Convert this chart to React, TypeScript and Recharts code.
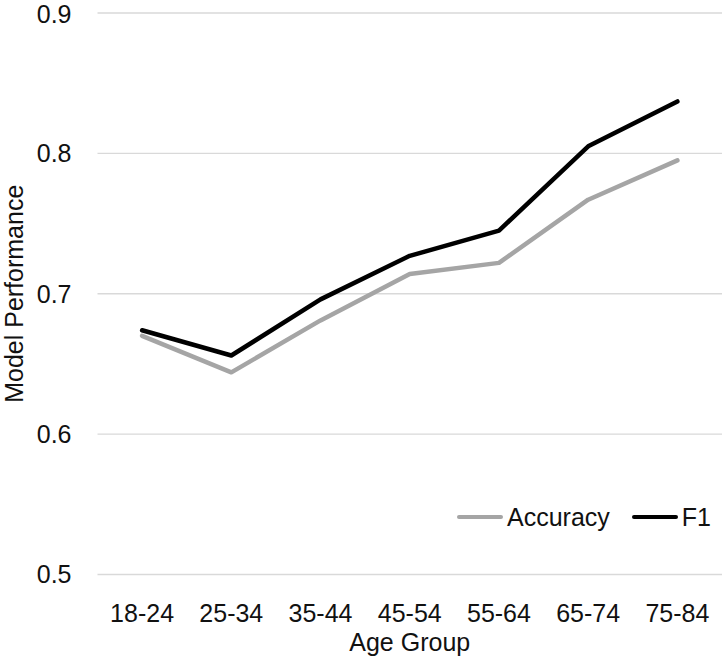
import { CartesianGrid, Line, LineChart, XAxis, YAxis } from 'recharts';

// Model performance by age group
const ageGroups = ['18-24', '25-34', '35-44', '45-54', '55-64', '65-74', '75-84'];
const accuracy = [0.67, 0.644, 0.681, 0.714, 0.722, 0.767, 0.795];
const f1 = [0.674, 0.656, 0.696, 0.727, 0.745, 0.805, 0.837];
const yTicks = [0.5, 0.6, 0.7, 0.8, 0.9];

const series = [
    { key: 'accuracy', name: 'Accuracy', color: '#a5a5a5' },
    { key: 'f1', name: 'F1', color: '#000000' },
];

const data = ageGroups.map((group, i) => ({
    group,
    accuracy: accuracy[i],
    f1: f1[i],
}));

const FONT = '"Liberation Sans", Arial, sans-serif';
const TEXT = '#111111';

function ChartLegend() {
    return (
        <div
            style={{
                position: 'absolute',
                left: 457,
                top: 502,
                display: 'flex',
                alignItems: 'center',
                fontFamily: FONT,
                fontSize: 25,
                lineHeight: '30px',
                color: TEXT,
            }}
        >
            {series.map((s, i) => (
                <div
                    key={s.key}
                    style={{
                        display: 'flex',
                        alignItems: 'center',
                        marginLeft: i === 0 ? 0 : 22,
                    }}
                >
                    <span
                        style={{
                            display: 'inline-block',
                            width: 46,
                            height: 4.5,
                            borderRadius: 3,
                            background: s.color,
                            marginRight: 4,
                        }}
                    />
                    <span>{s.name}</span>
                </div>
            ))}
        </div>
    );
}

export default function App() {
    return (
        <div
            style={{
                position: 'absolute',
                left: 0,
                top: 0,
                width: 724,
                height: 668,
                background: '#fff',
            }}
        >
            <LineChart
                width={724}
                height={668}
                data={data}
                margin={{ top: 13, right: 2, bottom: 0, left: 0 }}
            >
                <CartesianGrid
                    vertical={false}
                    stroke="#d9d9d9"
                    strokeWidth={1.3}
                />
                <XAxis
                    dataKey="group"
                    height={93.5}
                    padding={{ left: 44.6, right: 44.6 }}
                    axisLine={false}
                    tickLine={false}
                    tickSize={0}
                    tickMargin={30}
                    interval={0}
                    tick={{ fontSize: 25, fill: TEXT, fontFamily: FONT }}
                    label={{
                        value: 'Age Group',
                        position: 'insideBottom',
                        offset: 17,
                        fontSize: 25,
                        fill: TEXT,
                        fontFamily: FONT,
                    }}
                />
                <YAxis
                    width={97.5}
                    domain={[0.5, 0.9]}
                    ticks={yTicks}
                    tickFormatter={(v: number) => v.toFixed(1)}
                    axisLine={false}
                    tickLine={false}
                    tickSize={0}
                    tickMargin={26}
                    tick={{ fontSize: 25, fill: TEXT, fontFamily: FONT }}
                    label={{
                        value: 'Model Performance',
                        angle: -90,
                        position: 'insideLeft',
                        offset: 14,
                        fontSize: 25,
                        fill: TEXT,
                        fontFamily: FONT,
                        style: { textAnchor: 'middle' },
                    }}
                />
                {series.map((s) => (
                    <Line
                        key={s.key}
                        type="linear"
                        dataKey={s.key}
                        name={s.name}
                        stroke={s.color}
                        strokeWidth={4.5}
                        strokeLinecap="round"
                        strokeLinejoin="round"
                        dot={false}
                        activeDot={false}
                        isAnimationActive={false}
                    />
                ))}
            </LineChart>
            <ChartLegend />
        </div>
    );
}
